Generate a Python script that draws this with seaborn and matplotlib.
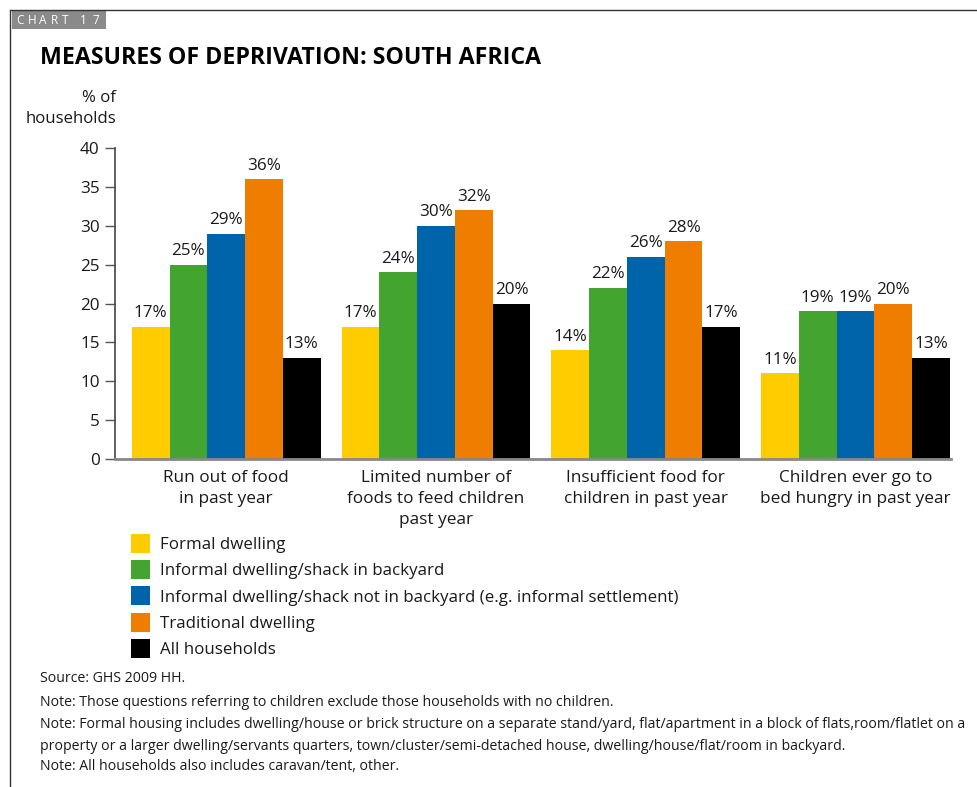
import matplotlib
matplotlib.use("Agg")
import matplotlib.pyplot as plt
from matplotlib.patches import Patch, Rectangle
from matplotlib.lines import Line2D
import seaborn as sns
import pandas as pd

categories = [
    "Run out of food\nin past year",
    "Limited number of\nfoods to feed children\npast year",
    "Insufficient food for\nchildren in past year",
    "Children ever go to\nbed hungry in past year",
]
series = [
    "Formal dwelling",
    "Informal dwelling/shack in backyard",
    "Informal dwelling/shack not in backyard (e.g. informal settlement)",
    "Traditional dwelling",
    "All households",
]
formal = [17, 17, 14, 11]
informal_backyard = [25, 24, 22, 19]
informal_settlement = [29, 30, 26, 19]
traditional = [36, 32, 28, 20]
all_households = [13, 20, 17, 13]
colors = ["#FFCC00", "#43A52F", "#0064AA", "#EF7D00", "#000000"]
yticks = [0, 5, 10, 15, 20, 25, 30, 35, 40]

notes = [
    "Source: GHS 2009 HH.",
    "Note: Those questions referring to children exclude those households with no children.",
    "Note: Formal housing includes dwelling/house or brick structure on a separate stand/yard, flat/apartment in a block of flats,room/flatlet on a",
    "property or a larger dwelling/servants quarters, town/cluster/semi-detached house, dwelling/house/flat/room in backyard.",
    "Note: All households also includes caravan/tent, other.",
]

values = [formal, informal_backyard, informal_settlement, traditional, all_households]
rows = []
for s, vals in zip(series, values):
    for c, v in zip(categories, vals):
        rows.append({"category": c, "series": s, "value": v})
df = pd.DataFrame(rows)

sns.set_theme(style="white")
plt.rcParams["font.family"] = ["Open Sans", "DejaVu Sans"]
text_color = "#1a1a1a"

W, H = 977, 787
fig = plt.figure(figsize=(W / 100, H / 100), dpi=100)
ax = fig.add_axes([115 / W, 1 - 459 / H, (951 - 115) / W, (459 - 148) / H])

sns.barplot(data=df, x="category", y="value", hue="series", order=categories,
            hue_order=series, palette=colors, width=0.9, gap=0, saturation=1,
            linewidth=0, ax=ax, legend=False)

for cont in ax.containers:
    ax.bar_label(cont, labels=[f"{v:.0f}%" for v in cont.datavalues],
                 padding=4, fontsize=12.3, color=text_color)

ax.set_ylim(0, 40)
ax.set_xlim(-0.53, 3.455)
ax.set_yticks(yticks)
ax.set_yticklabels([str(t) for t in yticks], fontsize=12.3, color=text_color)
ax.set_xlabel("")
ax.set_ylabel("")
ax.tick_params(axis="y", length=7, width=1, color="#555555", left=True, pad=4)
ax.tick_params(axis="x", length=0, pad=8, labelsize=12.4, labelcolor=text_color)
for lbl in ax.get_xticklabels():
    lbl.set_linespacing(1.4)
sns.despine(ax=ax)
ax.spines["left"].set_color("#444444")
ax.spines["left"].set_linewidth(1.2)
ax.spines["bottom"].set_color("#888888")
ax.spines["bottom"].set_linewidth(2)

# y-axis unit label
fig.text(116 / W, 1 - 98 / H, "% of", ha="right", va="center", fontsize=12.1, color=text_color)
fig.text(116 / W, 1 - 119 / H, "households", ha="right", va="center", fontsize=12.1, color=text_color)

# title and chart tag
fig.text(40 / W, 1 - 58 / H, "MEASURES OF DEPRIVATION: SOUTH AFRICA", ha="left",
         va="center", fontsize=16.7, fontweight="bold", color="#000000")
fig.add_artist(Rectangle((12 / W, 1 - 29 / H), 94 / W, 18 / H, transform=fig.transFigure,
                         facecolor="#8a8a8a", edgecolor="none"))
tag_x = [16, 28, 39, 51, 62, 80, 92]
for x, ch in zip(tag_x, "CHART17"):
    fig.text(x / W, 1 - 20.5 / H, ch, ha="left", va="center", fontsize=8.5, color="white")

# frame lines
fig.add_artist(Line2D([10 / W, 1], [1 - 10 / H, 1 - 10 / H], transform=fig.transFigure,
                      color="#333333", linewidth=1))
fig.add_artist(Line2D([10 / W, 10 / W], [0, 1 - 10 / H], transform=fig.transFigure,
                      color="#333333", linewidth=1))

# legend
handles = [Patch(facecolor=c, edgecolor="none") for c in colors]
fig.legend(handles, series, loc="upper left", bbox_to_anchor=(124 / W, 1 - 527 / H),
           frameon=False, prop={"size": 12.2}, handlelength=1.15, handleheight=1.35,
           handletextpad=0.55, labelspacing=0.42, borderaxespad=0, labelcolor=text_color)

# notes
ys = [679, 702, 725, 747, 767]
for y, t in zip(ys, notes):
    fig.text(40 / W, 1 - y / H, t, ha="left", va="center", fontsize=10.15, color=text_color)

fig.savefig("out.png", dpi=100)
